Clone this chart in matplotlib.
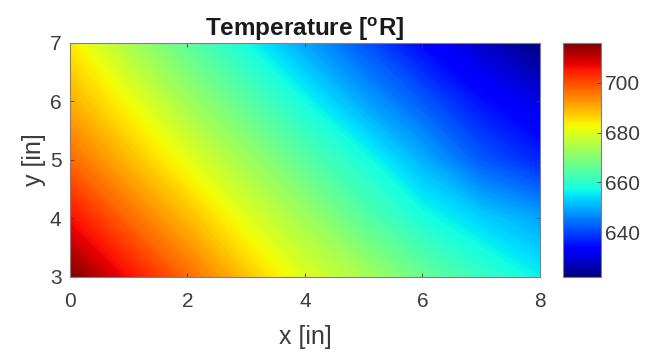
import numpy as np
import matplotlib
matplotlib.use("Agg")
import matplotlib.pyplot as plt

plt.rcParams['font.family'] = ['Liberation Sans', 'DejaVu Sans']
plt.rcParams['mathtext.fontset'] = 'custom'
plt.rcParams['mathtext.rm'] = 'Liberation Sans'
plt.rcParams['mathtext.bf'] = 'Liberation Sans:bold'

# Sample grid
x_in = [0, 1, 2, 3, 4, 5, 6, 7, 8]
y_in = [3, 4, 5, 6, 7]
T_y3 = [716, 706, 697, 688, 680, 674, 667, 661, 656]
T_y4 = [706, 697, 689, 680.5, 673, 665, 658, 653, 649]
T_y5 = [697, 689, 681, 673, 665, 658, 650, 642, 637]
T_y6 = [690, 682, 673, 665, 657, 649, 642, 635, 630]
T_y7 = [684, 674, 665.5, 657, 649, 641.5, 634, 628, 622]
cbar_ticks = [640, 660, 680, 700]
t_min, t_max = 622, 716

T = np.array([T_y3, T_y4, T_y5, T_y6, T_y7])
X, Y = np.meshgrid(x_in, y_in)

fig = plt.figure(figsize=(6.46, 3.55), dpi=100)
ax = fig.add_axes([0.108, 0.22, 0.728, 0.659])
cax = fig.add_axes([0.872, 0.22, 0.058, 0.659])

grey = '#3c3c3c'
levels = np.linspace(t_min, t_max, 189)
m = ax.contourf(X, Y, T, levels=levels, cmap='jet', vmin=t_min, vmax=t_max,
                antialiased=False)
ax.set_xlim(0, 8)
ax.set_ylim(3, 7)
ax.set_xticks([0, 2, 4, 6, 8])
ax.set_yticks([3, 4, 5, 6, 7])
ax.tick_params(direction='in', length=3, labelsize=15, colors=grey,
               top=True, right=True, width=0.6)
ax.tick_params(axis='x', pad=11)
ax.tick_params(axis='y', pad=6)
for s in ax.spines.values():
    s.set_color('#808080')
    s.set_linewidth(0.8)
ax.set_xlabel('x [in]', fontsize=18, color=grey, labelpad=10)
ax.set_ylabel('y [in]', fontsize=18, color=grey, labelpad=3)
ax.set_title(r'Temperature [$^{\mathbf{o}}$R]', fontsize=17.5, fontweight='bold',
             color='#1a1a1a', pad=5)

sm = plt.cm.ScalarMappable(cmap='jet', norm=plt.Normalize(t_min, t_max))
cb = fig.colorbar(sm, cax=cax)
cb.set_ticks(cbar_ticks)
cax.tick_params(direction='in', length=3, labelsize=15, colors=grey, width=0.6, pad=3)
cb.outline.set_edgecolor('#808080')
cb.outline.set_linewidth(0.8)

fig.savefig('out.png', dpi=100)
